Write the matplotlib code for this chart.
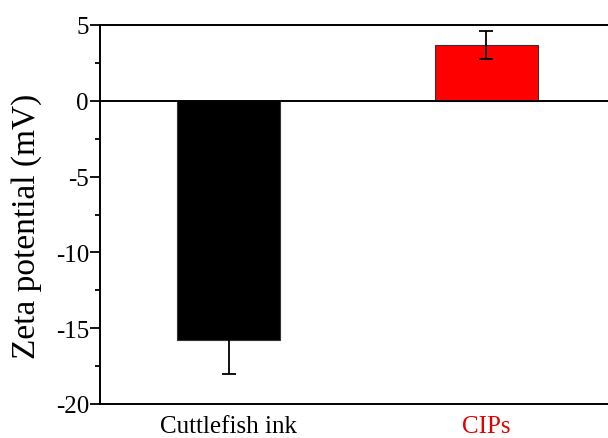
import numpy as np
import matplotlib.pyplot as plt
from matplotlib.ticker import MultipleLocator

categories = ["Cuttlefish ink", "CIPs"]
zeta = [-15.8, 3.7]
zeta_err = [2.25, 0.92]
bar_colors = ["#000000", "#ff0000"]
label_colors = ["#000000", "#e00000"]

plt.rcParams["font.family"] = ["Liberation Serif", "DejaVu Serif"]
plt.rcParams["axes.unicode_minus"] = False

fig = plt.figure(figsize=(6.08, 4.39), dpi=100)
ax = fig.add_axes([100 / 608, 34 / 439, 515 / 608, 379 / 439])

x = np.arange(len(categories))
ax.bar(x, zeta, width=0.4, color=bar_colors, edgecolor="#333333", linewidth=0.8,
       yerr=zeta_err, error_kw=dict(ecolor="black", elinewidth=1.3, capsize=5, capthick=1.3),
       zorder=2)
ax.axhline(0, color="black", linewidth=1.4, zorder=3)

ax.set_xlim(-0.5, 1.5)
ax.set_ylim(-20, 5)
ax.set_xticks(x)
ax.set_xticklabels(categories, fontsize=18)
for lbl, c in zip(ax.get_xticklabels(), label_colors):
    lbl.set_color(c)
ax.tick_params(axis="x", length=0, pad=8)

ax.yaxis.set_major_locator(MultipleLocator(5))
ax.yaxis.set_minor_locator(MultipleLocator(2.5))
ax.tick_params(axis="y", which="major", length=7, width=1.3, labelsize=18, direction="out", pad=1)
ax.tick_params(axis="y", which="minor", length=3.6, width=1.3, direction="out")
ax.set_ylabel("Zeta potential (mV)", fontsize=24)
ax.yaxis.set_label_coords(-0.112, 0.47)

for side in ["left", "top", "bottom"]:
    ax.spines[side].set_linewidth(1.4)
ax.spines["right"].set_visible(False)

fig.savefig("out.png", dpi=100)
